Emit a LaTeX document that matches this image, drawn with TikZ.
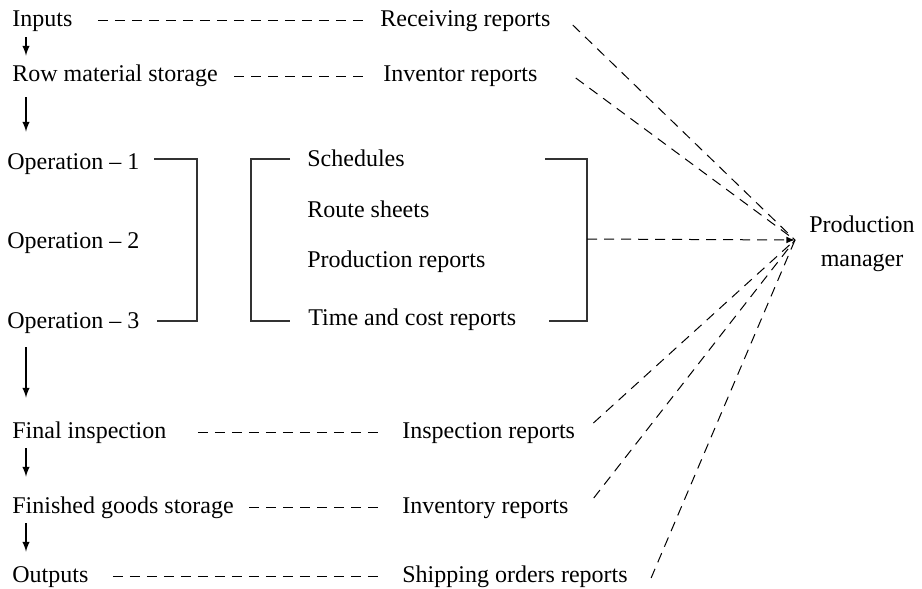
\documentclass[tikz,border=0pt]{standalone}
\usepackage{fontspec}
\setmainfont{Liberation Serif}
\usepackage{tikz}
\usetikzlibrary{positioning}
\usetikzlibrary{arrows}

\begin{document}
\begin{tikzpicture}[x=0.5pt,y=-0.5pt,font=\fontsize{12}{14}\selectfont]
\tikzstyle{stage}=[anchor=west, inner sep=2pt, text height=8pt, text depth=2.5pt]
\tikzstyle{report}=[stage]
\tikzstyle{connect}=[-latex, line width=0.7pt]
\tikzstyle{link}=[dashed, dash pattern=on 5pt off 3.5pt, line width=0.5pt]
\tikzstyle{bracket}=[line width=0.6pt, draw=black!80]
\useasboundingbox (0,0) rectangle (922,589);

  % flow on the left
  \node[stage] (inp)  at (8,20.5)  {Inputs};
  \node[stage] (raw)  at (8,76.5)  {Row material storage};
  \node[stage] (op1)  at (3,163.5) {Operation -- 1};
  \node[stage] (op2)  at (3,242.5) {Operation -- 2};
  \node[stage] (op3)  at (3,322.5) {Operation -- 3};
  \node[stage] (fin)  at (8,432.5) {Final inspection};
  \node[stage] (fgs)  at (8,507.5) {Finished goods storage};
  \node[stage] (outp) at (8,576.5) {Outputs};

  \draw[connect, shorten <=1pt, shorten >=3pt] ([xshift=9pt]inp.south west) -- ([xshift=9pt]raw.north west);
  \draw[connect, shorten <=3pt, shorten >=8.5pt] ([xshift=9pt]raw.south west) -- ([xshift=9pt]raw.south west |- op1.north);
  \draw[connect, shorten <=5pt, shorten >=10pt] ([xshift=9pt]fin.north west |- op3.south) -- ([xshift=9pt]fin.north west);
  \draw[connect, shorten <=0.5pt, shorten >=8pt] ([xshift=9pt]fin.south west) -- ([xshift=9pt]fgs.north west);
  \draw[connect, shorten <=0.5pt, shorten >=5pt] ([xshift=9pt]fgs.south west) -- ([xshift=9pt]outp.north west);

  % reports
  \node[report] (rec)  at (376,20.5)  {Receiving reports};
  \node[report] (inv)  at (379,76.5)  {Inventor reports};
  \node[report] (sch)  at (303,160.5) {Schedules};
  \node[report] (rte)  at (303,211.5) {Route sheets};
  \node[report] (prd)  at (303,261.5) {Production reports};
  \node[report] (tcr)  at (304,319.5) {Time and cost reports};
  \node[report] (insp) at (398,432.5) {Inspection reports};
  \node[report] (invy) at (398,507.5) {Inventory reports};
  \node[report] (ship) at (398,576.5) {Shipping orders reports};

  \draw[link, shorten <=10.5pt, shorten >=5.5pt] (inp.east) -- (rec.west);
  \draw[link, shorten <=6pt, shorten >=7pt] (raw.east) -- (inv.west);
  \draw[link, shorten <=13.5pt, shorten >=10pt] (fin.east) -- (insp.west);
  \draw[link, shorten <=5.5pt, shorten >=10pt] (fgs.east) -- (invy.west);
  \draw[link, shorten <=10pt, shorten >=10pt] (outp.east) -- (ship.west);

  % brackets
  \draw[bracket] (154,159) -| (197,321) -- (157,321);
  \draw[bracket] (290,159) -| (251,321) -- (290,321);
  \draw[bracket] (545,159) -| (587,321) -- (549,321);
  \coordinate (bk) at (587,239);

  % production manager
  \coordinate (pm) at (795,240);
  \node[align=center, inner sep=2pt, right=5pt of pm, yshift=-2pt] (mgr) {Production\\[3pt]manager};

  \draw[link, -latex] (bk) -- (pm);
  \draw[link] ([xshift=9pt,yshift=-2.25pt]rec.east) -- (pm);
  \draw[link] ([xshift=17pt,yshift=-0.75pt]inv.east) -- (pm);
  \draw[link] ([xshift=7pt,yshift=4.75pt]insp.east) -- (pm);
  \draw[link] ([xshift=10.5pt,yshift=4.75pt]invy.east) -- (pm);
  \draw[link] ([xshift=9.5pt,yshift=-0.75pt]ship.east) -- (pm);
\end{tikzpicture}
\end{document}
